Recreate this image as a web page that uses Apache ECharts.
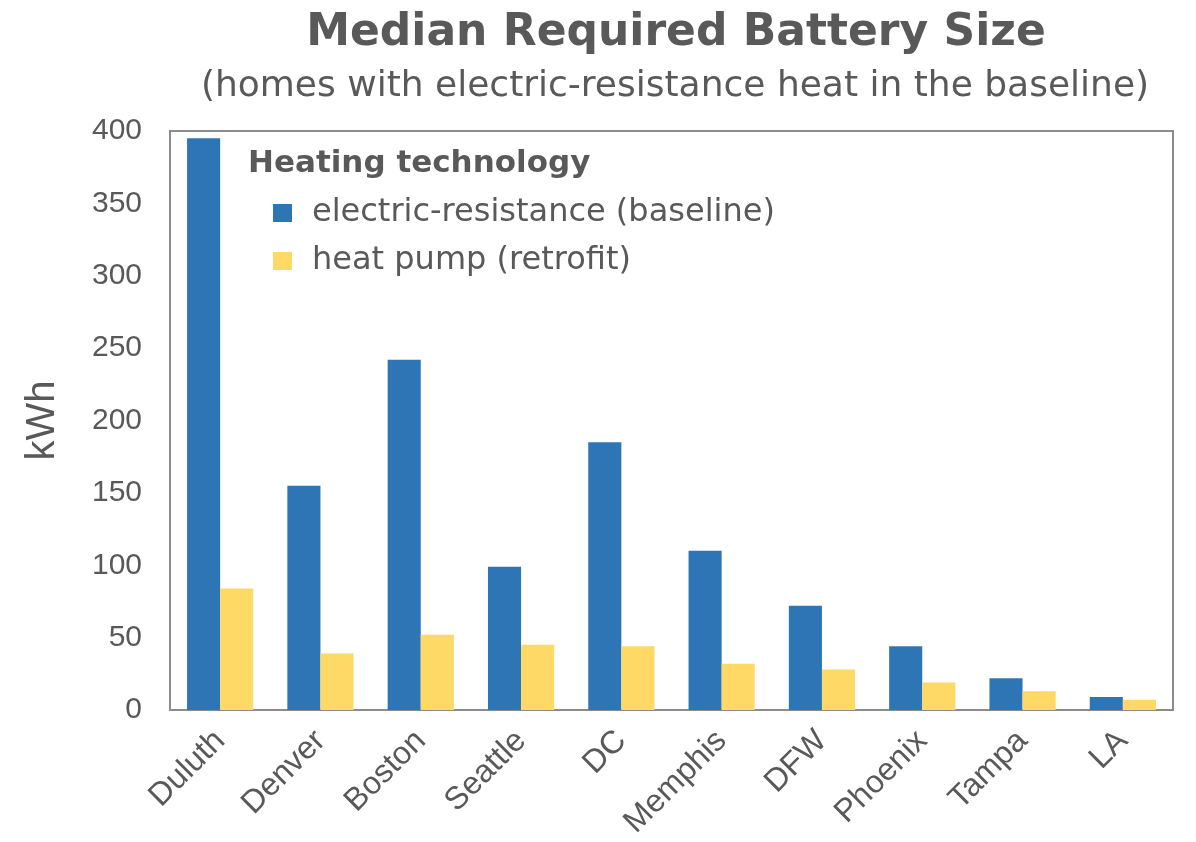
<!DOCTYPE html>
<html>
<head>
<meta charset="utf-8">
<script src="https://cdn.jsdelivr.net/npm/echarts@6/dist/echarts.min.js"></script>
<style>
  html, body { margin: 0; padding: 0; background: #fff; }
  #chart { width: 1196px; height: 842px; }
</style>
</head>
<body>
<div id="chart"></div>
<script>
// data
const cities = ['Duluth', 'Denver', 'Boston', 'Seattle', 'DC', 'Memphis', 'DFW', 'Phoenix', 'Tampa', 'LA']
const resistance = [395, 155, 242, 99, 185, 110, 72, 44, 22, 9]
const heatPump = [84, 39, 52, 45, 44, 32, 28, 19, 13, 7]
const yTicks = [0, 50, 100, 150, 200, 250, 300, 350, 400]

const textColor = '#595959'
const font = 'Liberation Sans, Arial, sans-serif'
// the headings in the picture are set wide, DejaVu gets closer to that
const wideFont = 'DejaVu Sans, sans-serif'

let myChart = echarts.init(document.getElementById('chart'))
myChart.setOption({
  animation: false,
  textStyle: { fontFamily: font, color: textColor },
  color: ['#2E75B6', '#FFD966'],
  title: [
    {
      // centred over the plot, not the page
      text: 'Median Required Battery Size',
      left: 671,
      textAlign: 'center',
      top: 7,
      textStyle: { fontSize: 44, fontWeight: 'bold', color: textColor, fontFamily: wideFont }
    },
    {
      text: '(homes with electric-resistance heat in the baseline)',
      left: 670,
      textAlign: 'center',
      top: 64,
      textStyle: { fontSize: 36, fontWeight: 'normal', color: textColor, fontFamily: wideFont }
    },
    {
      text: 'Heating technology',
      left: 243,
      top: 143,
      textStyle: { fontSize: 31, fontWeight: 'bold', color: textColor, fontFamily: wideFont }
    }
  ],
  legend: {
    orient: 'vertical',
    left: 268,
    top: 192,
    itemWidth: 19,
    itemHeight: 18,
    itemGap: 16,
    icon: 'rect',
    textStyle: { fontSize: 32, color: textColor, fontFamily: wideFont, padding: [0, 0, 0, 15] },
    data: ['electric-resistance (baseline)', 'heat pump (retrofit)']
  },
  grid: {
    left: 170,
    right: 23,
    top: 131,
    bottom: 132,
    show: true,
    borderColor: '#8c8c8c',
    borderWidth: 2,
    containLabel: false
  },
  xAxis: {
    type: 'category',
    data: cities,
    axisTick: { show: false },
    axisLine: { show: false },
    axisLabel: {
      rotate: 45,
      fontSize: 32,
      color: textColor,
      margin: 26,
      interval: 0
    }
  },
  yAxis: {
    type: 'value',
    min: yTicks[0],
    max: yTicks[yTicks.length - 1],
    interval: 50,
    name: 'kWh',
    nameLocation: 'middle',
    nameGap: 107,
    nameTextStyle: { fontSize: 40, color: textColor },
    splitLine: { show: false },
    axisLine: { show: false },
    axisTick: { show: false },
    axisLabel: { fontSize: 30, color: textColor, margin: 28 }
  },
  series: [
    {
      name: 'electric-resistance (baseline)',
      type: 'bar',
      data: resistance,
      barGap: '0%',
      barCategoryGap: '34%'
    },
    {
      name: 'heat pump (retrofit)',
      type: 'bar',
      data: heatPump
    }
  ]
})
</script>
</body>
</html>
